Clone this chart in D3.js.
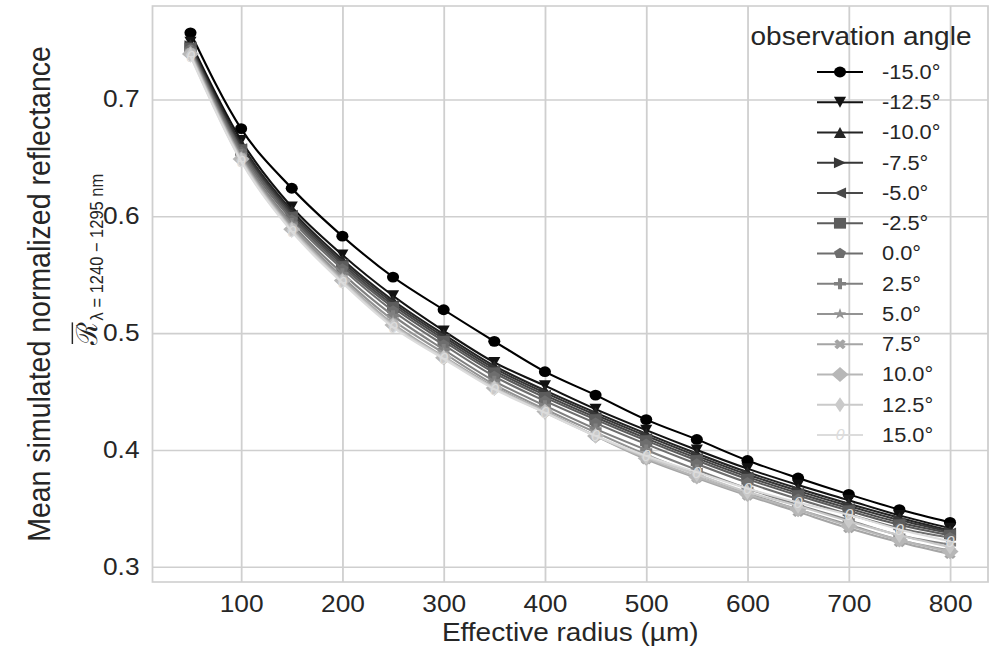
<!DOCTYPE html>
<html>
<head>
<meta charset="utf-8">
<script src="https://cdnjs.cloudflare.com/ajax/libs/d3/7.8.5/d3.min.js"></script>
<style>
  body { margin: 0; background: #fff; }
  text { font-family: "Liberation Sans", Arial, sans-serif; fill: #262626; }
</style>
</head>
<body>
<svg id="chart" width="997" height="653"></svg>
<script>
// effective radius (µm) of every sample
var radii = [50, 100, 150, 200, 250, 300, 350, 400, 450, 500, 550, 600, 650, 700, 750, 800];

// observation angles (legend entries)
var angles = ["-15.0°", "-12.5°", "-10.0°", "-7.5°", "-5.0°", "-2.5°", "0.0°",
              "2.5°", "5.0°", "7.5°", "10.0°", "12.5°", "15.0°"];

// mean simulated normalized reflectance, one list per angle
var refl_m150 = [0.757, 0.675, 0.624, 0.583, 0.548, 0.520, 0.493, 0.467, 0.447, 0.426, 0.409, 0.391, 0.376, 0.362, 0.349, 0.338];
var refl_m125 = [0.749, 0.665, 0.608, 0.567, 0.532, 0.502, 0.475, 0.455, 0.435, 0.417, 0.400, 0.384, 0.370, 0.357, 0.344, 0.333];
var refl_m100 = [0.747, 0.662, 0.605, 0.563, 0.528, 0.499, 0.472, 0.451, 0.432, 0.414, 0.397, 0.381, 0.367, 0.354, 0.342, 0.331];
var refl_m075 = [0.746, 0.660, 0.603, 0.561, 0.526, 0.497, 0.470, 0.449, 0.430, 0.412, 0.395, 0.379, 0.365, 0.352, 0.340, 0.330];
var refl_m050 = [0.745, 0.658, 0.601, 0.559, 0.524, 0.495, 0.468, 0.447, 0.428, 0.410, 0.393, 0.377, 0.363, 0.350, 0.338, 0.329];
var refl_m025 = [0.744, 0.657, 0.599, 0.557, 0.522, 0.493, 0.466, 0.445, 0.426, 0.408, 0.391, 0.375, 0.361, 0.348, 0.336, 0.327];
var refl_p000 = [0.743, 0.655, 0.597, 0.555, 0.519, 0.490, 0.463, 0.442, 0.423, 0.405, 0.388, 0.372, 0.358, 0.345, 0.333, 0.325];
var refl_p025 = [0.742, 0.653, 0.594, 0.551, 0.515, 0.486, 0.459, 0.438, 0.418, 0.400, 0.383, 0.367, 0.353, 0.340, 0.327, 0.319];
var refl_p050 = [0.741, 0.651, 0.592, 0.548, 0.511, 0.483, 0.456, 0.435, 0.415, 0.396, 0.379, 0.363, 0.349, 0.336, 0.323, 0.314];
var refl_p075 = [0.740, 0.650, 0.590, 0.546, 0.508, 0.480, 0.454, 0.433, 0.412, 0.392, 0.376, 0.361, 0.347, 0.333, 0.321, 0.311];
var refl_p100 = [0.739, 0.649, 0.589, 0.545, 0.507, 0.479, 0.453, 0.433, 0.412, 0.393, 0.377, 0.362, 0.349, 0.335, 0.323, 0.313];
var refl_p125 = [0.738, 0.648, 0.588, 0.544, 0.506, 0.479, 0.453, 0.432, 0.412, 0.394, 0.379, 0.364, 0.352, 0.339, 0.327, 0.317];
var refl_p150 = [0.737, 0.647, 0.587, 0.543, 0.505, 0.478, 0.452, 0.432, 0.412, 0.395, 0.381, 0.367, 0.355, 0.3445, 0.332, 0.322];

var xTicks = [100, 200, 300, 400, 500, 600, 700, 800];
var yTicks = [0.3, 0.4, 0.5, 0.6, 0.7];

// styling per series
var colors = ["#000000", "#121212", "#252525", "#373737", "#494949", "#5c5c5c", "#6e6e6e",
              "#808080", "#939393", "#a5a5a5", "#b7b7b7", "#cacaca", "#dcdcdc"];
var markers = ["o", "v", "^", ">", "<", "s", "p", "P", "*", "X", "D", "d", "theta"];

var allRefl = [refl_m150, refl_m125, refl_m100, refl_m075, refl_m050, refl_m025, refl_p000,
               refl_p025, refl_p050, refl_p075, refl_p100, refl_p125, refl_p150];
var series = angles.map(function(a, i) {
    return {
        name: a,
        color: colors[i],
        marker: markers[i],
        values: radii.map(function(r, j) { return {r: r, v: allRefl[i][j]}; })
    };
});

// the reference picture is a bit wider than tall, so everything is drawn
// in an unstretched frame and scaled horizontally
var SX = 1.12;
function px(v) { return v / SX; }

var svg = d3.select("#chart");
var root = svg.append("g").attr("transform", "scale(" + SX + ",1)");

var plot = {left: px(152.5), right: px(988), top: 6, bottom: 582};

// set the ranges
var x = d3.scaleLinear().domain([12.5, 837.5]).range([plot.left, plot.right]);
var y = d3.scaleLinear().domain([0.287, 0.780]).range([plot.bottom, plot.top]);

// grid + tick labels
var xAxis = root.append("g")
    .attr("transform", "translate(0," + plot.bottom + ")")
    .call(d3.axisBottom(x).tickValues(xTicks).tickSize(-(plot.bottom - plot.top)).tickPadding(13).tickFormat(d3.format("d")));
var yAxis = root.append("g")
    .attr("transform", "translate(" + plot.left + ",0)")
    .call(d3.axisLeft(y).tickValues(yTicks).tickSize(-(plot.right - plot.left)).tickPadding(px(13)).tickFormat(d3.format(".1f")));

[xAxis, yAxis].forEach(function(ax) {
    ax.select(".domain").remove();
    ax.selectAll(".tick line").attr("stroke", "#cfcfcf").attr("stroke-width", 1.6);
    ax.selectAll(".tick text").attr("font-size", 23.5).attr("font-family", "Liberation Sans, Arial, sans-serif").style("fill", "#262626");
});

// frame
root.append("rect")
    .attr("x", plot.left).attr("y", plot.top)
    .attr("width", plot.right - plot.left).attr("height", plot.bottom - plot.top)
    .attr("fill", "none").attr("stroke", "#cfcfcf").attr("stroke-width", 1.6);

// marker shapes
var MR = 5.4;
function poly(pts) {
    return "M" + pts.map(function(p) { return p[0].toFixed(2) + "," + p[1].toFixed(2); }).join("L") + "Z";
}
function rot(pts, deg) {
    var a = deg * Math.PI / 180;
    return pts.map(function(p) { return [p[0] * Math.cos(a) - p[1] * Math.sin(a), p[0] * Math.sin(a) + p[1] * Math.cos(a)]; });
}
var plusPts = [[-1,-3],[1,-3],[1,-1],[3,-1],[3,1],[1,1],[1,3],[-1,3],[-1,1],[-3,1],[-3,-1],[-1,-1]]
    .map(function(p) { return [p[0] * MR / 3, p[1] * MR / 3]; });
function starPts(n, ro, ri) {
    var pts = [];
    for (var k = 0; k < 2 * n; k++) {
        var a = -Math.PI / 2 + k * Math.PI / n, rr = (k % 2 == 0) ? ro : ri;
        pts.push([rr * Math.cos(a), rr * Math.sin(a)]);
    }
    return pts;
}
function pentPts(r) {
    var pts = [];
    for (var k = 0; k < 5; k++) {
        var a = -Math.PI / 2 + k * 2 * Math.PI / 5;
        pts.push([r * Math.cos(a), r * Math.sin(a)]);
    }
    return pts;
}
var DD = MR * 1.41;
var shapes = {
    "o": d3.symbol().type(d3.symbolCircle).size(Math.PI * MR * MR)(),
    "v": poly([[-MR,-MR],[MR,-MR],[0,MR]]),
    "^": poly([[0,-MR],[MR,MR],[-MR,MR]]),
    ">": poly([[MR,0],[-MR,-MR],[-MR,MR]]),
    "<": poly([[-MR,0],[MR,-MR],[MR,MR]]),
    "s": poly([[-MR,-MR],[MR,-MR],[MR,MR],[-MR,MR]]),
    "p": poly(pentPts(MR * 1.05)),
    "P": poly(plusPts),
    "*": poly(starPts(5, MR * 1.1, MR * 0.42)),
    "X": poly(rot(plusPts, 45)),
    "D": poly([[0,-DD],[DD,0],[0,DD],[-DD,0]]),
    "d": poly([[0,-DD],[DD * 0.6,0],[0,DD],[-DD * 0.6,0]])
};

function drawMarker(g, type, color, cx, cy) {
    if (type == "theta") {
        g.append("text")
            .attr("x", cx).attr("y", cy).attr("dy", "0.36em")
            .attr("text-anchor", "middle")
            .attr("font-family", "DejaVu Sans, sans-serif")
            .attr("font-style", "italic")
            .attr("font-size", 15)
            .style("fill", color)
            .text("θ");
    } else {
        g.append("path")
            .attr("d", shapes[type])
            .attr("transform", "translate(" + cx + "," + cy + ")")
            .attr("fill", color);
    }
}

// lines
var line = d3.line()
    .curve(d3.curveMonotoneX)
    .x(function(d) { return x(d.r); })
    .y(function(d) { return y(d.v); });

var lines = root.append("g");
series.forEach(function(s) {
    var g = lines.append("g").attr("class", "series");
    g.append("path")
        .datum(s.values)
        .attr("d", line)
        .attr("fill", "none")
        .attr("stroke", s.color)
        .attr("stroke-width", 2);
    s.values.forEach(function(d) {
        drawMarker(g, s.marker, s.color, x(d.r), y(d.v));
    });
});

// axis titles
root.append("text")
    .attr("x", (plot.left + plot.right) / 2)
    .attr("y", 641)
    .attr("text-anchor", "middle")
    .attr("font-size", 25)
    .text("Effective radius (µm)");

var yMid = (plot.top + plot.bottom) / 2;
root.append("text")
    .attr("transform", "translate(" + px(50) + "," + yMid + ") rotate(-90)")
    .attr("text-anchor", "middle")
    .attr("font-size", 28.5)
    .text("Mean simulated normalized reflectance");

// second line of the y label: overlined script R with subscript,
// it starts a bit below the middle of the axis (screen y 345)
var yl2 = root.append("g")
    .attr("transform", "translate(" + px(97) + "," + yMid + ") rotate(-90)");
var rMain = yl2.append("text")
    .attr("font-family", "DejaVu Sans, sans-serif")
    .attr("font-size", 26)
    .text("ℛ");
var rSub = yl2.append("text")
    .attr("font-family", "DejaVu Sans, sans-serif")
    .attr("font-size", 16.5)
    .attr("y", 5)
    .text("λ = 1240 − 1295 nm");
var wR = rMain.node().getComputedTextLength(),
    x0 = -(345 - yMid);
rMain.attr("x", x0);
rSub.attr("x", x0 + wR + 2);
yl2.append("line")
    .attr("x1", x0 + 1).attr("x2", x0 + wR)
    .attr("y1", -22).attr("y2", -22)
    .attr("stroke", "#262626").attr("stroke-width", 1.3);

// legend
var legend = root.append("g");
legend.append("text")
    .attr("x", px(861)).attr("y", 45)
    .attr("text-anchor", "middle")
    .attr("font-size", 25)
    .text("observation angle");

series.forEach(function(s, i) {
    var ly = 72 + i * 30.25;
    var g = legend.append("g");
    g.append("line")
        .attr("x1", px(817)).attr("x2", px(863))
        .attr("y1", ly).attr("y2", ly)
        .attr("stroke", s.color).attr("stroke-width", 2);
    drawMarker(g, s.marker, s.color, px(840), ly);
    g.append("text")
        .attr("x", px(882)).attr("y", ly).attr("dy", "0.35em")
        .attr("font-size", 19.5)
        .text(s.name);
});
</script>
</body>
</html>
